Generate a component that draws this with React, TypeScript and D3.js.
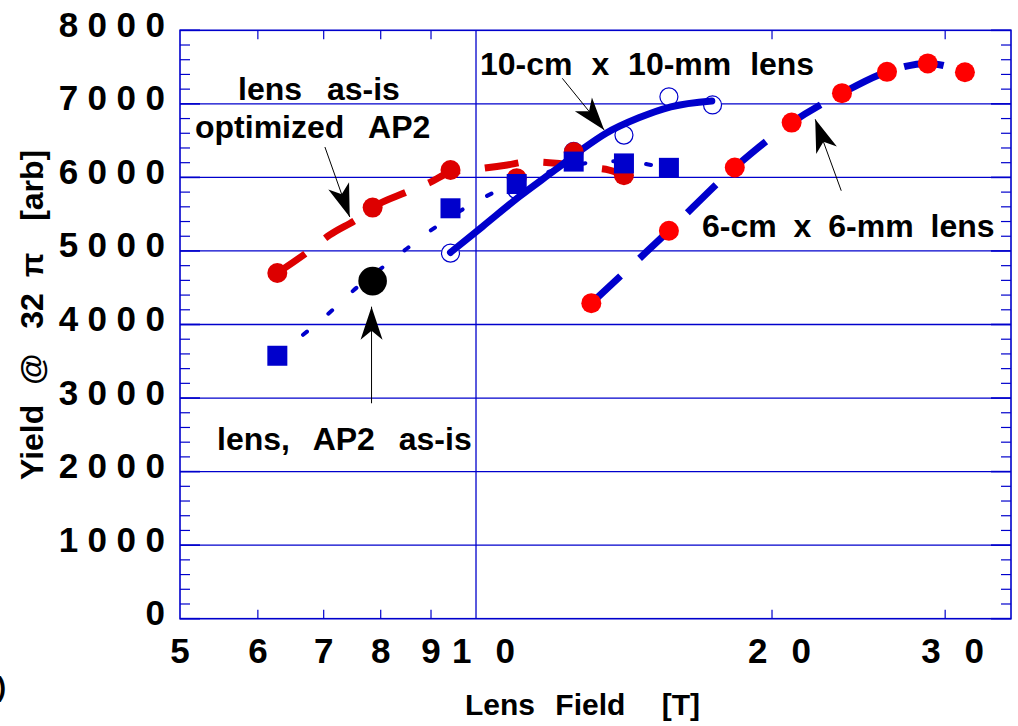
import React from "react";
import * as d3 from "d3";

const width = 1018;
const height = 726;
const plot = { left: 180, right: 1011, top: 30.3, bottom: 618.7 };

const xTicks = [5, 6, 7, 8, 9, 10, 20, 30];
const xMinor = [6, 7, 8, 9, 20, 30];
const yTicks = [0, 1000, 2000, 3000, 4000, 5000, 6000, 7000, 8000];

// lens as-is, optimized AP2 (red dots + red dashed fit)
const asIsField = [6.28, 7.85, 9.42, 11.0, 12.57, 14.14];
const asIsYield = [4700, 5590, 6100, 5990, 6345, 6030];
const asIsFitField = [6.28, 6.75, 7.1, 7.59, 7.85, 8.49, 8.98, 9.42, 10.03, 10.76, 11.3, 12.06, 12.94, 13.66, 14.14];
const asIsFitYield = [4700, 4990, 5217, 5444, 5590, 5797, 5933, 6070, 6114, 6169, 6213, 6192, 6137, 6100, 6033];

// blue squares + dotted fit
const squareField = [6.28, 9.42, 11.0, 12.57, 14.14, 15.71];
const squareYield = [3575, 5580, 5910, 6215, 6190, 6130];
const squareFitField = [6.28, 6.74, 7.15, 7.56, 8.04, 8.52, 9.01, 10.13, 10.86, 11.41, 13.66, 14.38, 15.28, 15.71];
const squareFitYield = [3580, 3910, 4200, 4500, 4780, 5040, 5285, 5710, 5900, 6005, 6220, 6210, 6155, 6130];

// 10-cm x 10-mm lens (open circles + solid fit)
const tenCmField = [9.42, 11.0, 12.57, 14.14, 15.71, 17.4];
const tenCmYield = [4970, 5830, 6355, 6575, 7095, 6985];
const tenCmFitField = [9.42, 10.15, 11.07, 12.06, 12.82, 13.56, 14.64, 15.78, 17.37];
const tenCmFitYield = [4980, 5330, 5740, 6110, 6380, 6600, 6810, 6960, 7040];

// 6-cm x 6-mm lens (red dots + blue dashed)
const sixCmField = [13.1, 15.71, 18.33, 20.94, 23.56, 26.18, 28.8, 31.42];
const sixCmYield = [4290, 5275, 6135, 6745, 7145, 7435, 7550, 7430];

// lens, AP2 as-is
const asIsPointField = [7.85];
const asIsPointYield = [4590];

// arrows: [fromField, fromYield, toField, toYield]
const arrows = [
  [7.02, 6413, 7.44, 5462],
  [12.24, 7347, 13.5, 6645],
  [23.52, 5819, 22.13, 6790],
  [7.83, 2929, 7.83, 4242],
];

const font = "'Liberation Sans', Arial, Helvetica, sans-serif";
const blue = "#0000cc";

export default function App() {
  const x = d3.scaleLog().domain([5, 35]).range([plot.left, plot.right]);
  const y = d3.scaleLinear().domain([0, 8000]).range([plot.bottom, plot.top]);

  const path = (xs: number[], ys: number[], curve: any) =>
    d3
      .line<number>()
      .x((i) => x(xs[i]))
      .y((i) => y(ys[i]))
      .curve(curve)(xs.map((_, i) => i)) || "";

  const arrowHead = (a: number[]) => {
    const x0 = x(a[0]), y0 = y(a[1]), x1 = x(a[2]), y1 = y(a[3]);
    const len = Math.hypot(x1 - x0, y1 - y0);
    const dx = (x1 - x0) / len, dy = (y1 - y0) / len;
    const nx = -dy, ny = dx;
    const L = 33, Wd = 11, N = 24;
    const pts = [
      [x1, y1],
      [x1 - dx * L + nx * Wd, y1 - dy * L + ny * Wd],
      [x1 - dx * N, y1 - dy * N],
      [x1 - dx * L - nx * Wd, y1 - dy * L - ny * Wd],
    ];
    return pts.map((p) => p.join(",")).join(" ");
  };

  const minorY = d3.range(200, 8000, 200).filter((v) => v % 1000 !== 0);

  return (
    <svg
      width={width}
      height={height}
      style={{ position: "absolute", left: 0, top: 0, background: "#fff" }}
      fontFamily={font}
      fontWeight="bold"
    >
      <rect width={width} height={height} fill="#fff" />

      {/* grid */}
      {yTicks.slice(1, -1).map((v) => (
        <line key={"gy" + v} x1={plot.left} x2={plot.right} y1={y(v)} y2={y(v)} stroke={blue} strokeWidth={1.3} />
      ))}
      <line x1={x(10)} x2={x(10)} y1={plot.top} y2={plot.bottom} stroke={blue} strokeWidth={1.3} />

      {/* minor ticks */}
      {minorY.map((v) => (
        <g key={"my" + v}>
          <line x1={plot.left} x2={plot.left + 10} y1={y(v)} y2={y(v)} stroke={blue} strokeWidth={1.2} />
          <line x1={plot.right} x2={plot.right - 10} y1={y(v)} y2={y(v)} stroke={blue} strokeWidth={1.2} />
        </g>
      ))}
      {yTicks.map((v) => (
        <g key={"My" + v}>
          <line x1={plot.left} x2={plot.left + 20} y1={y(v)} y2={y(v)} stroke={blue} strokeWidth={1.6} />
          <line x1={plot.right} x2={plot.right - 20} y1={y(v)} y2={y(v)} stroke={blue} strokeWidth={1.6} />
        </g>
      ))}
      {xMinor.map((v) => (
        <g key={"mx" + v}>
          <line x1={x(v)} x2={x(v)} y1={plot.top} y2={plot.top + 9} stroke={blue} strokeWidth={1.2} />
          <line x1={x(v)} x2={x(v)} y1={plot.bottom} y2={plot.bottom - 9} stroke={blue} strokeWidth={1.2} />
        </g>
      ))}
      <rect
        x={plot.left}
        y={plot.top}
        width={plot.right - plot.left}
        height={plot.bottom - plot.top}
        fill="none"
        stroke={blue}
        strokeWidth={1.6}
      />

      {/* fits */}
      <path
        d={path(asIsFitField, asIsFitYield, d3.curveMonotoneX)}
        fill="none"
        stroke="#dd0000"
        strokeWidth={7}
        strokeDasharray="34 25"
      />
      <path
        d={path(squareFitField, squareFitYield, d3.curveMonotoneX)}
        fill="none"
        stroke={blue}
        strokeWidth={4}
        strokeLinecap="round"
        strokeDasharray="5 28"
      />
      <path
        d={path(sixCmField, sixCmYield, d3.curveMonotoneX)}
        fill="none"
        stroke={blue}
        strokeWidth={7}
        strokeDasharray="40 26"
      />
      {tenCmField.map((f, i) => (
        <circle key={"oc" + i} cx={x(f)} cy={y(tenCmYield[i])} r={9} fill="#fff" stroke={blue} strokeWidth={1.2} />
      ))}
      <path
        d={path(tenCmFitField, tenCmFitYield, d3.curveMonotoneX)}
        fill="none"
        stroke={blue}
        strokeWidth={7}
        strokeLinecap="round"
      />

      {/* markers */}
      {asIsField.map((f, i) => (
        <circle key={"rd" + i} cx={x(f)} cy={y(asIsYield[i])} r={10} fill="#dd0000" />
      ))}
      {squareField.map((f, i) => (
        <rect key={"sq" + i} x={x(f) - 10} y={y(squareYield[i]) - 10} width={20} height={20} fill={blue} />
      ))}
      {sixCmField.map((f, i) => (
        <circle key={"sc" + i} cx={x(f)} cy={y(sixCmYield[i])} r={10} fill="#ff0000" />
      ))}
      {asIsPointField.map((f, i) => (
        <circle key={"bk" + i} cx={x(f)} cy={y(asIsPointYield[i])} r={14.3} fill="#000" />
      ))}

      {/* arrows */}
      {arrows.map((a, i) => (
        <g key={"ar" + i}>
          <line x1={x(a[0])} y1={y(a[1])} x2={x(a[2])} y2={y(a[3])} stroke="#000" strokeWidth={1} />
          <polygon points={arrowHead(a)} fill="#000" />
        </g>
      ))}

      {/* annotations */}
      <g fontSize={32} fill="#000" style={{ whiteSpace: "pre" }}>
        <text x={238} y={100} wordSpacing={16}>lens as-is</text>
        <text x={195} y={138} wordSpacing={16}>optimized AP2</text>
        <text x={480} y={75} wordSpacing={10}>10-cm x 10-mm lens</text>
        <text x={702} y={237} wordSpacing={8}>6-cm x 6-mm lens</text>
        <text x={217} y={450} wordSpacing={15}>lens, AP2 as-is</text>
      </g>

      {/* y tick labels */}
      {yTicks.map((v) => (
        <text key={"yl" + v} x={174.5} y={y(v) + 6.5} textAnchor="end" fontSize={35} letterSpacing={9.5}>
          {v}
        </text>
      ))}
      {/* x tick labels */}
      {xTicks.map((v) =>
        v < 10 ? (
          <text key={"xl" + v} x={x(v)} y={663} textAnchor="middle" fontSize={35}>
            {v}
          </text>
        ) : (
          <text key={"xl" + v} x={x(v) - 24} y={663} textAnchor="start" fontSize={35} letterSpacing={24}>
            {v}
          </text>
        )
      )}

      {/* axis titles */}
      <text x={465} y={715} fontSize={30} style={{ whiteSpace: "pre" }}>
        <tspan>Lens</tspan>
        <tspan dx={12}> Field</tspan>
        <tspan dx={28}> [T]</tspan>
      </text>
      <text transform="translate(43,480) rotate(-90)" fontSize={32} style={{ whiteSpace: "pre" }}>
        <tspan>Yield</tspan>
        <tspan dx={11}> @</tspan>
        <tspan dx={16}> 32</tspan>
        <tspan dx={7}> π</tspan>
        <tspan dx={23}> [arb]</tspan>
      </text>
      <text x={6} y={696} fontSize={28} textAnchor="end">
        (a)
      </text>
    </svg>
  );
}
